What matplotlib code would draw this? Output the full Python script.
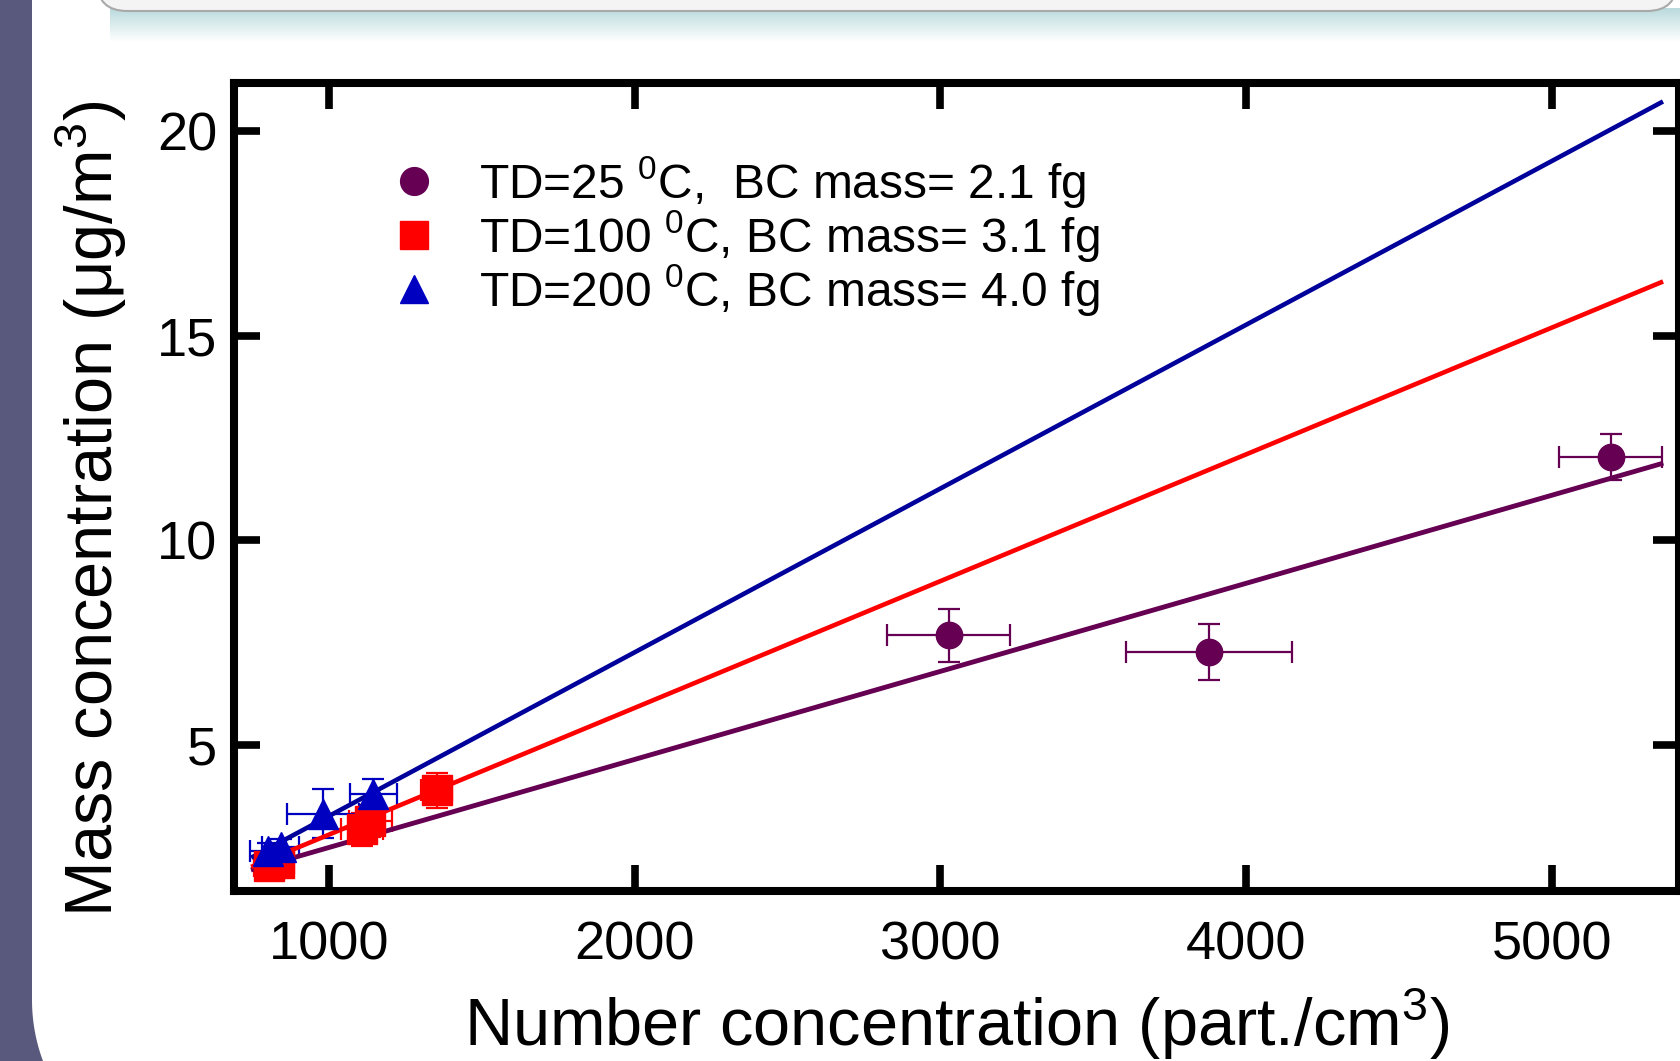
import numpy as np
import matplotlib
matplotlib.use("Agg")
import matplotlib.pyplot as plt
from matplotlib.lines import Line2D
from matplotlib.patches import FancyBboxPatch, Polygon

plt.rcParams['font.family'] = ['Liberation Sans', 'DejaVu Sans']
plt.rcParams['mathtext.fontset'] = 'custom'
plt.rcParams['mathtext.rm'] = 'Liberation Sans'
plt.rcParams['mathtext.it'] = 'Liberation Sans:italic'

# data
purple_x = [3027, 3878, 5192]
purple_y = [7.68, 7.28, 12.04]
purple_xerr = [202, 271, 167]
purple_yerr = [0.65, 0.69, 0.57]

red_x = [805, 835, 1108, 1135, 1352]
red_y = [2.05, 2.12, 2.95, 3.15, 3.90]
red_xerr = [50, 50, 70, 70, 50]
red_yerr = [0.2, 0.2, 0.4, 0.4, 0.43]

blue_x = [800, 842, 981, 1145]
blue_y = [2.42, 2.52, 3.33, 3.80]
blue_xerr = [60, 60, 118, 76]
blue_yerr = [0.2, 0.2, 0.59, 0.38]

# linear fits (end points)
fit_x = [752, 5357]
purple_fit = [1.97, 11.87]
red_fit = [2.05, 16.30]
blue_fit = [2.28, 20.69]

labels = ['TD=25 $^0$C,  BC mass= 2.1 fg',
          'TD=100 $^0$C, BC mass= 3.1 fg',
          'TD=200 $^0$C, BC mass= 4.0 fg']

PURPLE = '#650052'
RED = '#ff0000'
BLUE = '#0000c0'
NAVY = '#00009a'

W, H = 1680, 1061
fig = plt.figure(figsize=(W / 100, H / 100), dpi=100)

# slide decoration behind the chart
bg = fig.add_axes([0, 0, 1, 1], zorder=0)
bg.set_xlim(0, W)
bg.set_ylim(H, 0)
bg.axis('off')
shade = np.zeros((40, 2, 4))
shade[..., 0] = 0.55
shade[..., 1] = 0.76
shade[..., 2] = 0.78
shade[..., 3] = np.linspace(0.6, 0, 40)[:, None]
bg.imshow(shade, extent=(110, W, 42, 8), aspect='auto', interpolation='bilinear')
bg.add_patch(FancyBboxPatch((97, -60), 1580, 71, boxstyle='round,pad=0,rounding_size=30',
                            facecolor='#f4f4f4', edgecolor='#a9a9a9', lw=1.5))
R = 175
arc_y = np.linspace(1000, H, 30)
arc_x = 32 + R - np.sqrt(R ** 2 - (arc_y - 1000) ** 2)
pts = [(0, 0), (32, 0), (32, 1000)] + list(zip(arc_x, arc_y)) + [(0, H)]
bg.add_patch(Polygon(pts, closed=True, facecolor='#59597d', edgecolor='none'))

ax = fig.add_axes([234 / W, 1 - 891 / H, (1679 - 234) / W, (891 - 82.5) / H], zorder=1)

ekw = dict(capsize=8, elinewidth=1.6, capthick=1.6, ls='none')
ax.errorbar(purple_x, purple_y, xerr=purple_xerr, yerr=purple_yerr, fmt='o',
            color=PURPLE, ms=19, **ekw)
ax.errorbar(red_x, red_y, xerr=red_xerr, yerr=red_yerr, fmt='s',
            color=RED, ms=21, **ekw)
ax.errorbar(blue_x, blue_y, xerr=blue_xerr, yerr=blue_yerr, fmt='^',
            color=BLUE, ms=21, **ekw)

ax.plot(fit_x, purple_fit, color=PURPLE, lw=3.5)
ax.plot(fit_x, red_fit, color=RED, lw=3.3)
ax.plot(fit_x, blue_fit, color=NAVY, lw=3.3)

ax.set_xlim(689, 5416)
ax.set_ylim(1.44, 21.18)
ax.set_xticks([1000, 2000, 3000, 4000, 5000])
ax.set_yticks([5, 10, 15, 20])
ax.tick_params(direction='in', length=19, width=5.5, labelsize=39,
               top=True, right=True)
ax.tick_params(axis='x', pad=21)
ax.tick_params(axis='y', pad=12)
for s in ax.spines.values():
    s.set_linewidth(5.8)

ax.set_xlabel('Number concentration (part./cm$^3$)', fontsize=48)
ax.set_ylabel('Mass concentration (μg/m$^3$)', fontsize=48)
ax.xaxis.set_label_coords(0.5, -0.118)
ax.yaxis.set_label_coords(-0.0727, 0.4725)

handles = [Line2D([], [], marker='o', ls='none', color=PURPLE, ms=20),
           Line2D([], [], marker='s', ls='none', color=RED, ms=20),
           Line2D([], [], marker='^', ls='none', color=BLUE, ms=20)]
ax.legend(handles, labels, loc='upper left', bbox_to_anchor=(0.108, 0.912),
          frameon=False, fontsize=34.5, handlelength=1.0, handletextpad=0.85,
          labelspacing=-0.04, borderpad=0, borderaxespad=0)

fig.savefig('out.png', dpi=100)
